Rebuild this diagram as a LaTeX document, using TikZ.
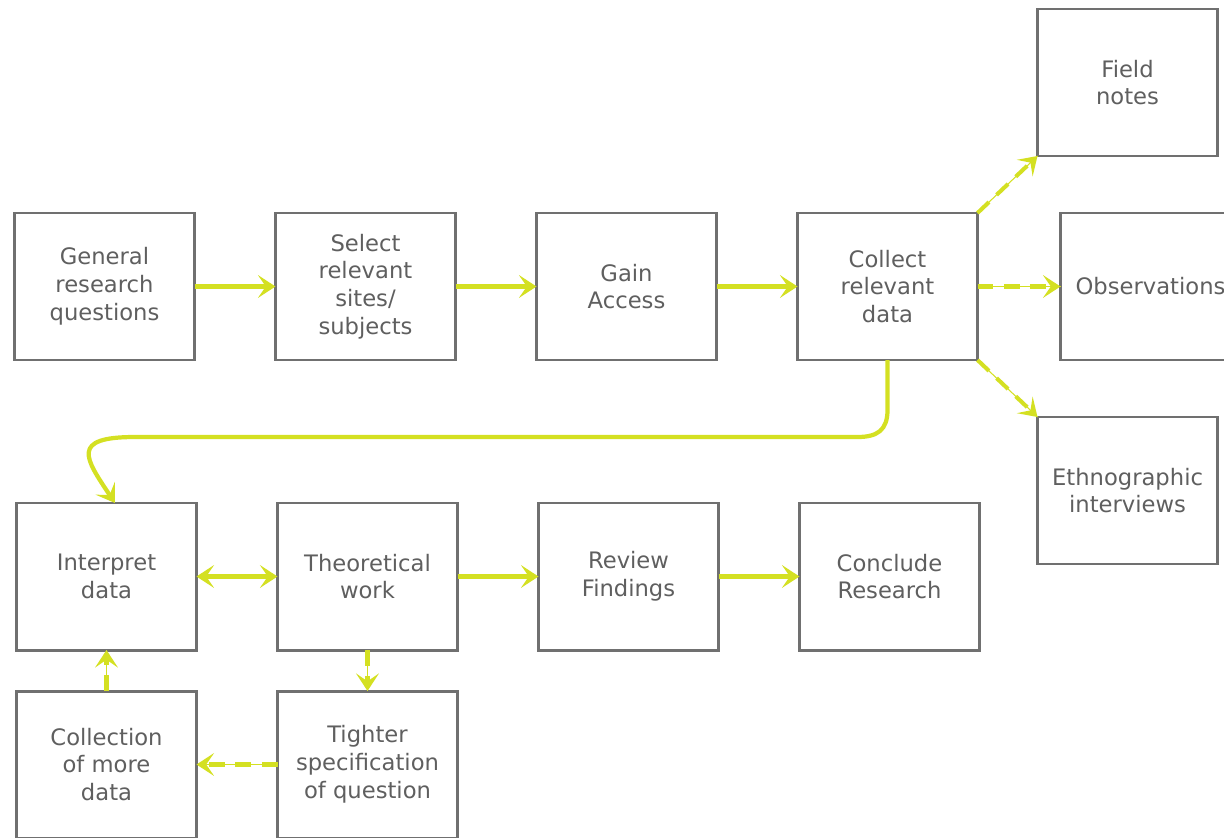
\documentclass[tikz,border=0pt]{standalone}
\usepackage{fontspec}
\setmainfont{DejaVu Sans}
\usetikzlibrary{positioning,arrows.meta}
\definecolor{lime}{RGB}{212,224,34}
\definecolor{boxgrey}{RGB}{112,112,112}
\definecolor{textgrey}{RGB}{95,95,95}
\tikzset{
    stage/.style={draw=boxgrey, line width=1.7pt, outer sep=0pt, minimum width=3.6cm, minimum height=2.94cm, align=center, text=textgrey, font=\fontsize{12.9}{15.8}\selectfont},
    tip/.style={Stealth[length=10pt, width=13pt, inset=4.5pt]},
    flow/.style={draw=lime, line width=2.4pt, -{Stealth[length=10pt, width=13pt, inset=4.5pt]}},
    twoway/.style={flow, {Stealth[length=10pt, width=13pt, inset=4.5pt]}-{Stealth[length=10pt, width=13pt, inset=4.5pt]}},
    side/.style={draw=lime, line width=2.3pt, dash pattern=on 9pt off 6pt, -{Stealth[length=10pt, width=13pt, inset=4.5pt]}, preaction={draw=lime, line width=0.6pt, solid, -}}
}

\begin{document}
\begin{tikzpicture}[node distance=2.86cm and 1.62cm]
    \path[use as bounding box] (-2.09,5.73) rectangle (22.39,-11.01);
    \node[stage](general) at (0,0){General\\research\\questions};
    \node[stage, right=of general](select){Select\\relevant\\sites/\\subjects};
    \node[stage, right=of select](access){Gain\\Access};
    \node[stage, right=of access](collect){Collect\\relevant\\data};
    \node[stage, above right=1.14cm and 1.2cm of collect](field){Field\\notes};
    \node[stage, right=1.66cm of collect](obs){Observations};
    \node[stage, below right=1.14cm and 1.2cm of collect](ethno){Ethnographic\\interviews};
    \node[stage, below=of general, xshift=0.04cm](interpret){Interpret\\data};
    \node[stage, right=of interpret](theory){Theoretical\\work};
    \node[stage, right=of theory](review){Review\\Findings};
    \node[stage, right=of review](conclude){Conclude\\Research};
    \node[stage, below=0.82cm of interpret](more){Collection\\of more\\data};
    \node[stage, below=0.82cm of theory](tighter){Tighter\\specification\\of question};
    \coordinate[above right=1.32cm and 0.57cm of interpret.north](turn);
    \draw[flow](general)--(select); \draw[flow](select)--(access); \draw[flow](access)--(collect);
    \draw[flow](collect.south)--++(0,-1.0) .. controls +(0,-0.4) and +(0.4,0) .. ++(-0.6,-0.54) --(turn) .. controls +(-1.3,0) and +(-0.6,0.9) .. ([xshift=0.17cm]interpret.north);
    \draw[twoway](interpret)--(theory); \draw[flow](theory)--(review); \draw[flow](review)--(conclude);
    \draw[side](collect.north east)--(field.south west);
    \draw[side](collect)--(obs);
    \draw[side](collect.south east)--(ethno.north west);
    \draw[side](theory)--(tighter); \draw[side](tighter)--(more); \draw[side](more)--(interpret);
\end{tikzpicture}
\end{document}
